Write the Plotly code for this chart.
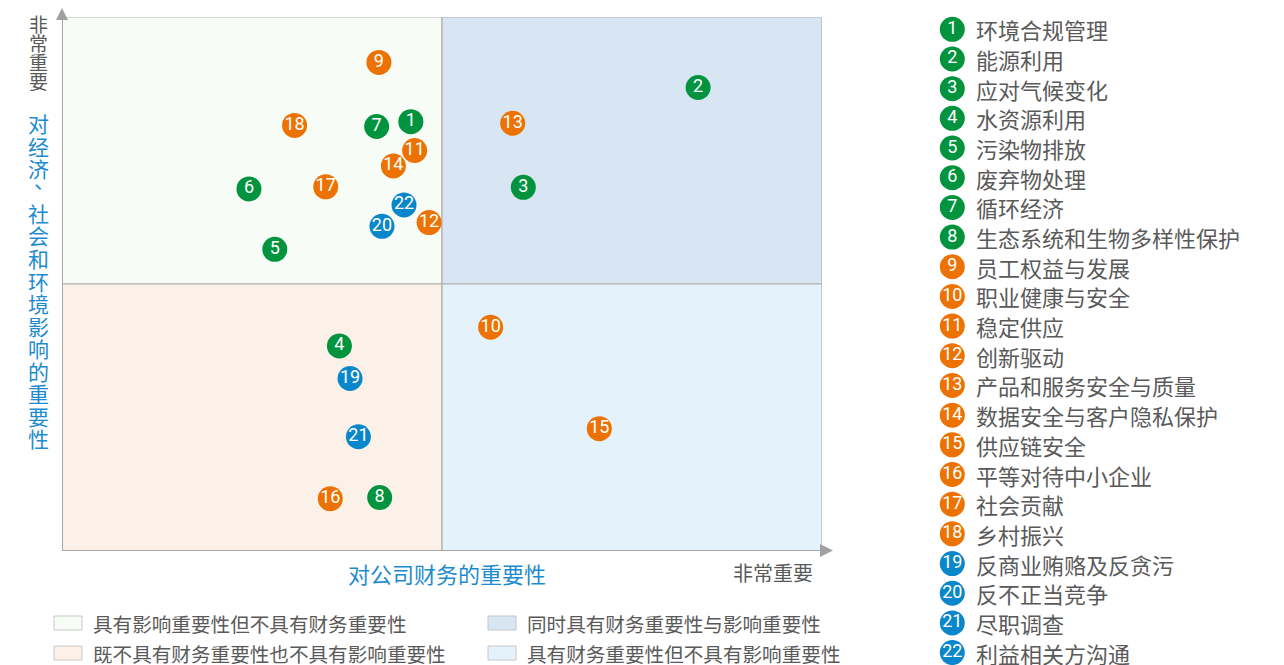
import plotly.graph_objects as go

W, H = 1284, 665

# ---------------- data ----------------
topic_ids = list(range(1, 23))
topic_names = [
    "环境合规管理", "能源利用", "应对气候变化", "水资源利用", "污染物排放", "废弃物处理",
    "循环经济", "生态系统和生物多样性保护", "员工权益与发展", "职业健康与安全", "稳定供应",
    "创新驱动", "产品和服务安全与质量", "数据安全与客户隐私保护", "供应链安全",
    "平等对待中小企业", "社会贡献", "乡村振兴", "反商业贿赂及反贪污", "反不正当竞争",
    "尽职调查", "利益相关方沟通",
]
topic_group = ["env"] * 8 + ["soc"] * 10 + ["gov"] * 4
financial_importance = [4.59, 8.37, 6.07, 3.65, 2.80, 2.46, 4.14, 4.18, 4.17, 5.64, 4.64,
                        4.83, 5.93, 4.36, 7.07, 3.53, 3.47, 3.06, 3.79, 4.21, 3.90, 4.50]
impact_importance = [8.04, 8.68, 6.81, 3.84, 5.65, 6.78, 7.95, 1.00, 9.15, 4.19, 7.50,
                     6.15, 8.01, 7.21, 2.29, 0.98, 6.82, 7.97, 3.23, 6.08, 2.14, 6.48]

quadrant_labels = [
    "具有影响重要性但不具有财务重要性",
    "同时具有财务重要性与影响重要性",
    "既不具有财务重要性也不具有影响重要性",
    "具有财务重要性但不具有影响重要性",
]
x_title = "对公司财务的重要性"
y_title = "对经济、社会和环境影响的重要性"
high_label = "非常重要"

# ---------------- styles ----------------
group_color = {"env": "#02933F", "soc": "#EC7303", "gov": "#0A86CA"}
quad_colors = ["#F8FCF6", "#D8E5F2", "#FBF1E8", "#E4F2FC"]
blue_text = "#1D8BD0"
grey_text = "#5A5A5A"
line_grey = "#B0B0B0"
CJK = "Noto Sans CJK SC"
NUM_FONT = dict(color="white", size=18, family="Roboto")

def px_x(px):
    return px / W

def px_y(py):
    return 1 - py / H

L, R, T, B = 62, 822, 17, 551

fig = go.Figure()

colors = [group_color[g] for g in topic_group]

# main scatter
fig.add_trace(go.Scatter(
    x=financial_importance, y=impact_importance,
    mode="markers+text",
    text=[str(i) for i in topic_ids],
    textposition="middle center",
    textfont=NUM_FONT,
    marker=dict(size=25, color=colors, line=dict(width=0)),
    hoverinfo="skip", showlegend=False,
    xaxis="x", yaxis="y",
))

# right side legend markers
fig.add_trace(go.Scatter(
    x=[22.3] * len(topic_ids), y=topic_ids,
    mode="markers+text",
    text=[str(i) for i in topic_ids],
    textposition="middle center",
    textfont=NUM_FONT,
    marker=dict(size=25, color=colors, line=dict(width=0)),
    hoverinfo="skip", showlegend=False,
    xaxis="x2", yaxis="y2",
))

annotations = []
for i, name in zip(topic_ids, topic_names):
    annotations.append(dict(
        x=44, y=i, xref="x2", yref="y2", text=name, showarrow=False,
        xanchor="left", yanchor="middle",
        font=dict(size=22, color=grey_text, family=CJK),
    ))

shapes = []
# quadrants
quads = [(0, 5, 5, 10), (5, 10, 5, 10), (0, 5, 0, 5), (5, 10, 0, 5)]
for (x0, x1, y0, y1), c in zip(quads, quad_colors):
    shapes.append(dict(type="rect", xref="x", yref="y", x0=x0, x1=x1, y0=y0, y1=y1,
                       fillcolor=c, line=dict(color=line_grey, width=1.2), layer="below"))
# axes lines
shapes.append(dict(type="line", xref="x", yref="y", x0=0, x1=10, y0=0, y1=0,
                   line=dict(color="#A8A8A8", width=2)))
shapes.append(dict(type="line", xref="x", yref="y", x0=0, x1=0, y0=0, y1=10,
                   line=dict(color="#A8A8A8", width=2)))
# arrows
shapes.append(dict(type="path", xref="paper", yref="paper",
                   path=f"M {px_x(56)} {px_y(20)} L {px_x(68)} {px_y(20)} L {px_x(62)} {px_y(8)} Z",
                   fillcolor="#A0A0A0", line=dict(width=0)))
shapes.append(dict(type="path", xref="paper", yref="paper",
                   path=f"M {px_x(820)} {px_y(544)} L {px_x(820)} {px_y(557)} L {px_x(833)} {px_y(550.5)} Z",
                   fillcolor="#A0A0A0", line=dict(width=0)))

# bottom legend swatches + labels
legend_pos = [(54, 623), (488, 623), (54, 653), (488, 653)]
for (sx, sy), lab, c in zip(legend_pos, quadrant_labels, quad_colors):
    shapes.append(dict(type="rect", xref="paper", yref="paper",
                       x0=px_x(sx), x1=px_x(sx + 28), y0=px_y(sy + 7), y1=px_y(sy - 7),
                       fillcolor=c, line=dict(color="#C8C8C8", width=1)))
    annotations.append(dict(x=px_x(sx + 37), y=px_y(sy), xref="paper", yref="paper",
                            text=lab, showarrow=False, xanchor="left", yanchor="middle",
                            font=dict(size=19.6, color=grey_text, family=CJK)))

# vertical y texts
for k, ch in enumerate(high_label):
    annotations.append(dict(x=px_x(38), y=px_y(24 + 19 * k), xref="paper", yref="paper",
                            text=ch, showarrow=False, xanchor="center", yanchor="middle",
                            font=dict(size=19, color=grey_text, family=CJK)))
for k, ch in enumerate(y_title):
    is_comma = ch == "、"
    annotations.append(dict(x=px_x(38), y=px_y(123 + 22.5 * k), xref="paper", yref="paper",
                            text=ch, showarrow=False, xanchor="center", yanchor="middle",
                            xshift=6 if is_comma else 0, yshift=12 if is_comma else 0,
                            font=dict(size=21, color=blue_text, family=CJK)))
# x texts
annotations.append(dict(x=px_x(447), y=px_y(573), xref="paper", yref="paper",
                        text=x_title, showarrow=False, xanchor="center", yanchor="middle",
                        font=dict(size=22, color=blue_text, family=CJK)))
annotations.append(dict(x=px_x(773), y=px_y(572), xref="paper", yref="paper",
                        text=high_label, showarrow=False, xanchor="center", yanchor="middle",
                        font=dict(size=20, color=grey_text, family=CJK)))

step = 29.68
first = 29.3
fig.update_layout(
    width=W, height=H, margin=dict(l=0, r=0, t=0, b=0),
    paper_bgcolor="white", plot_bgcolor="rgba(0,0,0,0)",
    xaxis=dict(domain=[px_x(L), px_x(R)], range=[0, 10], visible=False, fixedrange=True),
    yaxis=dict(domain=[px_y(B), px_y(T)], range=[0, 10], visible=False, fixedrange=True),
    xaxis2=dict(domain=[px_x(930), 1], range=[0, W - 930], visible=False, anchor="y2",
                fixedrange=True),
    yaxis2=dict(domain=[0, 1], range=[1 + (H - first) / step, 1 - first / step],
                visible=False, anchor="x2", fixedrange=True),
    shapes=shapes, annotations=annotations,
)

fig.write_html("out.html", config={"displayModeBar": False},
               post_script="document.body.style.margin='0';document.body.style.overflow='hidden';")
